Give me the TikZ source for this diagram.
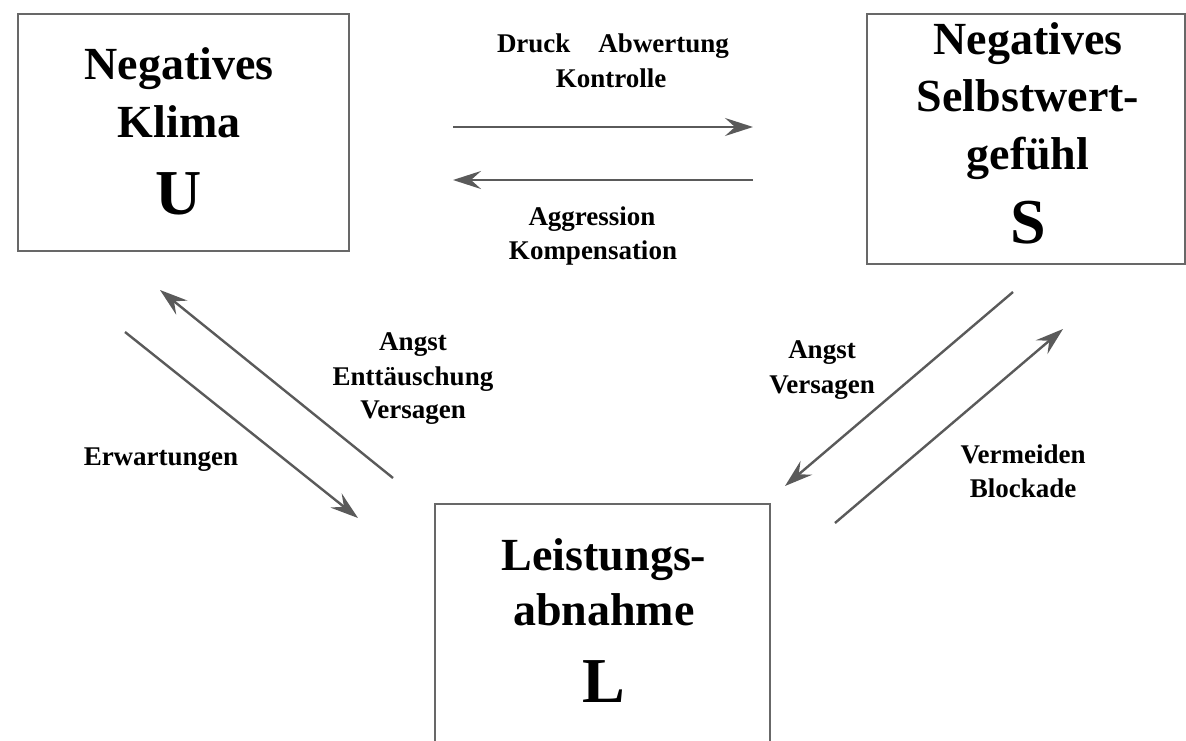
\documentclass[tikz,border=0pt]{standalone}
\usepackage{fontspec}
\setmainfont{Liberation Serif}
\usetikzlibrary{arrows.meta}
\definecolor{boxgray}{HTML}{686868}
\definecolor{arrgray}{HTML}{5A5A5A}
\tikzset{
  box/.style={draw=boxgray, line width=2pt, minimum width=#1, inner sep=0pt},
  boxline/.style={anchor=base, inner sep=0pt, font=\fontsize{46}{50}\selectfont\bfseries},
  bigletter/.style={anchor=base, inner sep=0pt, font=\fontsize{64}{70}\selectfont\bfseries},
  lbl/.style={anchor=base, inner sep=0pt, font=\fontsize{27}{30}\selectfont\bfseries},
  conn/.style={draw=arrgray, line width=2.4pt, -{Stealth[length=28pt, width=18pt, inset=10pt]}}
}
\begin{document}
\begin{tikzpicture}[x=1pt, y=-1pt]
\useasboundingbox (0,0) rectangle (1186,741);
% boxes
\node[box=331pt, minimum height=237pt, anchor=north west] (U) at (17,13) {};
\node[box=318pt, minimum height=250pt, anchor=north west] (S) at (866,13) {};
\node[box=335pt, minimum height=300pt, anchor=north west] (L) at (434,503) {};
% box texts
\node[boxline] (u1) at (179,80) {Negatives};
\node[boxline] (u2) at (179,138) {Klima};
\node[bigletter] (u3) at (179,214) {U};
\node[boxline] (s1) at (1028,55) {Negatives};
\node[boxline] (s2) at (1028,112) {Selbstwert-};
\node[boxline] (s3) at (1028,170) {gefühl};
\node[bigletter] (s4) at (1028,243) {S};
\node[boxline] (l1) at (604,570) {Leistungs-};
\node[boxline] (l2) at (604,625) {abnahme};
\node[bigletter] (l3) at (604,702) {L};
% connector end points
\coordinate (a1s) at (453,127); \coordinate (a1e) at (753,127);
\coordinate (a2s) at (753,180); \coordinate (a2e) at (453,180);
\coordinate (a3s) at (125,332); \coordinate (a3e) at (358,518);
\coordinate (a4s) at (393,478); \coordinate (a4e) at (160,290);
\coordinate (a5s) at (1013,292); \coordinate (a5e) at (785,486);
\coordinate (a6s) at (835,523); \coordinate (a6e) at (1063,329);
\draw[conn] (a1s) -- (a1e);
\draw[conn] (a2s) -- (a2e);
\draw[conn] (a3s) -- (a3e);
\draw[conn] (a4s) -- (a4e);
\draw[conn] (a5s) -- (a5e);
\draw[conn] (a6s) -- (a6e);
% labels
\node[lbl] (t1) at (613,53) {Druck\hspace{28pt}Abwertung};
\node[lbl] (t2) at (611,88) {Kontrolle};
\node[lbl] (t3) at (592,225) {Aggression};
\node[lbl] (t4) at (593,259) {Kompensation};
\node[lbl] (t5) at (413,350) {Angst};
\node[lbl] (t6) at (413,385) {Enttäuschung};
\node[lbl] (t7) at (413,418) {Versagen};
\node[lbl] (t8) at (161,465) {Erwartungen};
\node[lbl] (t9) at (822,358) {Angst};
\node[lbl] (t10) at (822,393) {Versagen};
\node[lbl] (t11) at (1023,463) {Vermeiden};
\node[lbl] (t12) at (1023,497) {Blockade};
\end{tikzpicture}
\end{document}
